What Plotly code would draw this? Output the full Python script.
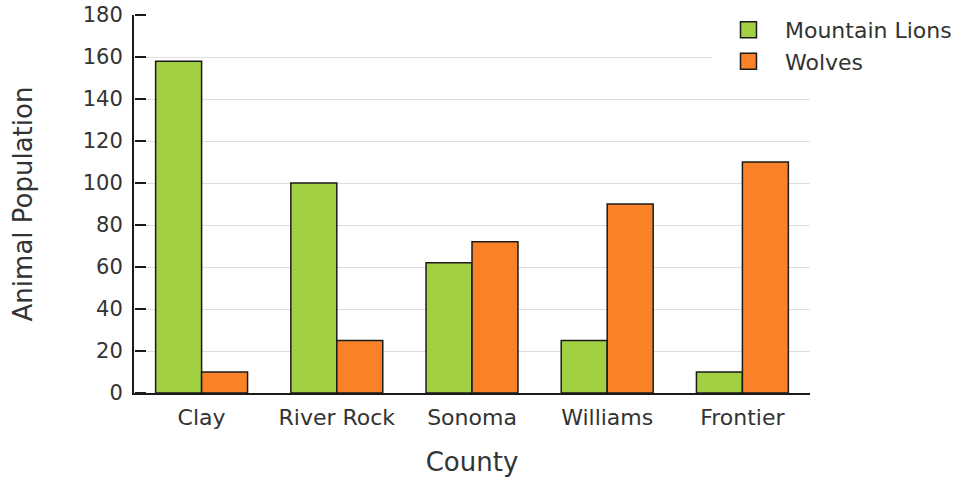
import plotly.graph_objects as go

counties = ["Clay", "River Rock", "Sonoma", "Williams", "Frontier"]
mountain_lions = [158, 100, 62, 25, 10]
wolves = [10, 25, 72, 90, 110]
y_ticks = [0, 20, 40, 60, 80, 100, 120, 140, 160, 180]
series = ["Mountain Lions", "Wolves"]
colors = ["#a3cf43", "#f98228"]
edge = "#1a1a1a"

fig = go.Figure()
for name, vals, col in zip(series, [mountain_lions, wolves], colors):
    fig.add_trace(go.Bar(name=name, x=counties, y=vals, showlegend=False,
                         marker=dict(color=col, line=dict(color=edge, width=1.5))))
# legend entries with larger square swatches
for name, col in zip(series, colors):
    fig.add_trace(go.Scatter(name=name, x=[None], y=[None], mode="markers", yaxis="y2",
                             marker=dict(symbol="square", size=16, color=col,
                                         line=dict(color=edge, width=1.5))))

fig.update_layout(
    width=964, height=479,
    margin=dict(l=134, r=154, t=15, b=86, autoexpand=False),
    barmode="group", bargap=0.32, bargroupgap=0,
    paper_bgcolor="white", plot_bgcolor="white",
    font=dict(family="DejaVu Sans", color="#333333", size=22),
    legend=dict(x=0.855, y=1.016, xanchor="left", yanchor="top",
                bgcolor="white", font=dict(size=22, color="#333333"),
                itemwidth=63, tracegroupgap=0),
    xaxis=dict(showline=True, linecolor=edge, linewidth=2, ticks="", automargin=False,
               title=dict(text="County", font=dict(size=26), standoff=23),
               tickfont=dict(size=22), ticklabelstandoff=4),
    yaxis=dict(range=[0, 180], tickvals=y_ticks, showline=True, linecolor=edge,
               linewidth=2, ticks="",
               showgrid=True, gridcolor="#dddddd", gridwidth=1, zeroline=False,
               automargin=False, ticklabelstandoff=5,
               title=dict(text="Animal Population", font=dict(size=26), standoff=43),
               tickfont=dict(size=21)),
    # companion axis at the left edge whose outward ticks point into the plot
    yaxis2=dict(range=[0, 180], tickvals=y_ticks, overlaying="y", anchor="free",
                position=0, side="right", showline=False, showgrid=False,
                zeroline=False, showticklabels=False, ticks="outside", ticklen=11,
                tickcolor=edge, tickwidth=2, automargin=False),
)

fig.write_html("out.html")
